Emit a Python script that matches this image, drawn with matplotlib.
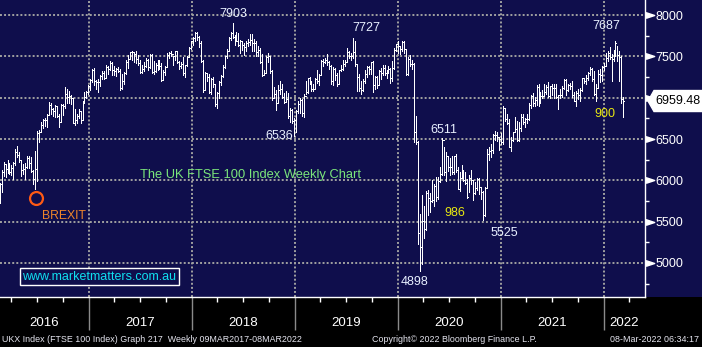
import numpy as np
import pandas as pd
import matplotlib
matplotlib.use("Agg")
import matplotlib.pyplot as plt
import matplotlib.dates as mdates
from matplotlib.transforms import blended_transform_factory
from matplotlib.patches import Rectangle, Polygon

# ---------------- data (weekly FTSE 100) ----------------
first_week = "2016-02-19"

close_2016 = [5950, 6097, 6199, 6139, 6189, 6106, 6146, 6204, 6343, 6310, 6242, 6125, 6138, 6156, 6270, 6209,
              6116, 6021, 6138, 6577, 6590, 6669, 6730, 6724, 6793, 6916, 6859, 6838, 6894, 6777, 6710, 6910,
              6899, 7044, 7014, 7020, 6996, 6693, 6730, 6775, 6840, 6730, 6954, 7011, 7068, 7142]
high_2016 = [5970, 6120, 6220, 6200, 6240, 6210, 6190, 6220, 6380, 6420, 6340, 6250, 6200, 6210, 6290, 6290,
             6280, 6120, 6360, 6600, 6610, 6700, 6740, 6760, 6800, 6950, 6940, 6880, 6910, 6900, 6800, 6920,
             6920, 7130, 7100, 7080, 7030, 7000, 6860, 6800, 6860, 6840, 6960, 7070, 7080, 7150]
low_2016 = [5720, 5860, 6050, 6040, 6090, 6080, 6060, 6020, 6190, 6280, 6220, 6050, 6080, 6020, 6150, 6150,
            6100, 5950, 5900, 5990, 6460, 6590, 6630, 6660, 6640, 6790, 6800, 6780, 6770, 6770, 6640, 6710,
            6790, 6880, 6940, 6940, 6920, 6690, 6670, 6690, 6760, 6690, 6740, 6930, 7000, 7050]

close_2017 = [7210, 7338, 7198, 7184, 7188, 7258, 7300, 7243, 7374, 7343, 7425, 7337, 7323, 7349, 7327, 7114,
              7204, 7297, 7435, 7470, 7547, 7548, 7527, 7464, 7424, 7313, 7350, 7378, 7453, 7368, 7511, 7310,
              7324, 7401, 7439, 7378, 7215, 7311, 7373, 7522, 7535, 7523, 7505, 7560, 7433, 7380, 7409, 7300,
              7394, 7490, 7603, 7688]
high_2017 = [7220, 7350, 7360, 7210, 7220, 7280, 7320, 7320, 7390, 7380, 7440, 7430, 7380, 7360, 7370, 7350,
             7290, 7310, 7450, 7520, 7550, 7560, 7540, 7560, 7520, 7450, 7390, 7430, 7480, 7470, 7530, 7530,
             7440, 7420, 7450, 7450, 7420, 7330, 7380, 7540, 7550, 7560, 7510, 7560, 7560, 7440, 7430, 7490,
             7400, 7510, 7610, 7690]
low_2017 = [7090, 7190, 7150, 7110, 7070, 7140, 7230, 7230, 7240, 7290, 7330, 7280, 7270, 7260, 7310, 7090,
            7110, 7170, 7290, 7360, 7470, 7460, 7430, 7420, 7400, 7300, 7300, 7320, 7370, 7340, 7360, 7300,
            7290, 7310, 7330, 7350, 7200, 7210, 7280, 7370, 7480, 7500, 7400, 7450, 7420, 7350, 7360, 7280,
            7250, 7380, 7490, 7590]

close_2018 = [7724, 7778, 7730, 7665, 7443, 7092, 7294, 7244, 7070, 7224, 7164, 6922, 7057, 7184, 7265, 7368,
              7502, 7567, 7724, 7778, 7730, 7701, 7681, 7633, 7682, 7637, 7617, 7661, 7679, 7701, 7659, 7667,
              7558, 7577, 7432, 7277, 7304, 7490, 7510, 7318, 6996, 7050, 6940, 7094, 7105, 7014, 6953, 6980,
              6778, 6845, 6721, 6733]
high_2018 = [7730, 7790, 7790, 7750, 7680, 7460, 7310, 7290, 7290, 7240, 7250, 7170, 7070, 7200, 7270, 7400,
             7510, 7590, 7730, 7800, 7903, 7760, 7790, 7780, 7700, 7690, 7660, 7690, 7710, 7770, 7770, 7710,
             7680, 7620, 7600, 7530, 7330, 7510, 7540, 7510, 7330, 7130, 7090, 7150, 7200, 7160, 7060, 7080,
             7060, 6880, 6860, 6760]
low_2018 = [7640, 7690, 7700, 7610, 7430, 7070, 7100, 7200, 7060, 7050, 7130, 6900, 6870, 7000, 7150, 7250,
            7360, 7480, 7560, 7700, 7720, 7640, 7680, 7620, 7540, 7580, 7520, 7570, 7630, 7640, 7560, 7570,
            7510, 7510, 7420, 7260, 7270, 7300, 7430, 7300, 6970, 6990, 6850, 6950, 7040, 6990, 6930, 6950,
            6760, 6710, 6690, 6536]

close_2019 = [6837, 6918, 6968, 6809, 7020, 7071, 7237, 7178, 7107, 7104, 7228, 7207, 7279, 7447, 7437, 7460,
              7428, 7380, 7203, 7348, 7277, 7161, 7331, 7346, 7407, 7426, 7553, 7506, 7508, 7549, 7407, 7253,
              7117, 7095, 7207, 7282, 7367, 7345, 7426, 7155, 7247, 7150, 7324, 7302, 7359, 7302, 7326, 7346,
              7240, 7353, 7582, 7645]
high_2019 = [6850, 6960, 7000, 6980, 7050, 7200, 7240, 7250, 7200, 7170, 7240, 7340, 7290, 7450, 7470, 7480,
             7530, 7440, 7400, 7370, 7360, 7300, 7340, 7400, 7450, 7450, 7600, 7570, 7540, 7727, 7690, 7410,
             7290, 7200, 7230, 7340, 7380, 7380, 7430, 7440, 7260, 7260, 7340, 7360, 7400, 7390, 7340, 7380,
             7360, 7440, 7600, 7650]
low_2019 = [6590, 6810, 6820, 6780, 6770, 7040, 7060, 7160, 7080, 7080, 7100, 7180, 7150, 7270, 7380, 7420,
            7400, 7350, 7170, 7150, 7210, 7140, 7160, 7320, 7330, 7380, 7430, 7480, 7460, 7480, 7380, 7080,
            7080, 7050, 7080, 7180, 7250, 7290, 7290, 7070, 7110, 7120, 7150, 7230, 7280, 7270, 7240, 7300,
            7180, 7200, 7350, 7570]

close_2020 = [7622, 7588, 7675, 7586, 7286, 7467, 7409, 7404, 6581, 6463, 5366, 5191, 5510, 5416, 5843, 5787,
              5752, 5763, 5936, 5800, 5993, 6077, 6484, 6105, 6293, 6159, 6157, 6095, 6290, 6124, 5898, 6032,
              6090, 6002, 5964, 5800, 6032, 6007, 5843, 5902, 6017, 5920, 5860, 5577, 5910, 6316, 6351, 6367,
              6550, 6547, 6529, 6502, 6461]
high_2020 = [7690, 7620, 7690, 7690, 7590, 7490, 7520, 7460, 7420, 6780, 6470, 5590, 5820, 5690, 5870, 5880,
             5850, 6000, 5950, 6040, 6040, 6160, 6511, 6400, 6340, 6290, 6270, 6290, 6300, 6320, 6160, 6100,
             6190, 6120, 6100, 6020, 6060, 6120, 6000, 5980, 6030, 6030, 5920, 5870, 5920, 6380, 6400, 6440,
             6560, 6600, 6590, 6530, 6570]
low_2020 = [7540, 7530, 7560, 7540, 7270, 7280, 7380, 7350, 6460, 6440, 5230, 4898, 4990, 5300, 5400, 5580,
            5620, 5740, 5690, 5750, 5780, 5980, 6060, 6060, 5990, 6110, 6060, 6080, 6080, 6100, 5890, 5870,
            6040, 5990, 5950, 5790, 5860, 5960, 5760, 5830, 5880, 5830, 5780, 5525, 5570, 5920, 6240, 6280,
            6330, 6490, 6480, 6370, 6440]

close_2021 = [6873, 6736, 6695, 6407, 6489, 6589, 6624, 6483, 6631, 6761, 6709, 6741, 6737, 6916, 7020, 6938,
              6970, 7130, 7044, 7018, 7023, 7069, 7134, 7017, 7136, 7123, 7122, 7008, 7028, 7032, 7123, 7218,
              7088, 7148, 7138, 7029, 6964, 7051, 7028, 7096, 7234, 7205, 7238, 7304, 7348, 7224, 7044, 7122,
              7292, 7270, 7373, 7385]
high_2021 = [6900, 6870, 6800, 6740, 6530, 6590, 6770, 6720, 6700, 6800, 6800, 6760, 6800, 6930, 7030, 7060,
             7010, 7150, 7160, 7070, 7090, 7160, 7150, 7190, 7140, 7170, 7170, 7170, 7030, 7110, 7140, 7220,
             7230, 7170, 7180, 7200, 7070, 7080, 7110, 7120, 7240, 7240, 7280, 7310, 7370, 7360, 7320, 7170,
             7340, 7350, 7380, 7420]
low_2021 = [6440, 6720, 6680, 6400, 6360, 6480, 6600, 6480, 6470, 6600, 6680, 6640, 6690, 6730, 6870, 6900,
            6900, 6910, 6900, 6930, 6990, 7020, 7040, 7010, 6990, 7030, 6990, 6990, 6860, 6990, 7010, 7110,
            7030, 7080, 7100, 7010, 6960, 6900, 6980, 6960, 7080, 7180, 7170, 7210, 7270, 7200, 7030, 6960,
            7120, 7190, 7200, 7340]

close_2022 = [7485, 7543, 7494, 7466, 7516, 7661, 7513, 7489, 6987, 6959.48]
high_2022 = [7540, 7570, 7610, 7530, 7580, 7687, 7620, 7570, 7500, 7010]
low_2022 = [7380, 7440, 7470, 7200, 7440, 7510, 7440, 7200, 6940, 6770]

price_ticks = [5000, 5500, 6000, 6500, 7000, 7500, 8000]
year_labels = ["2016", "2017", "2018", "2019", "2020", "2021", "2022"]

peak_labels = [("7903", 233, 14), ("7727", 366, 28), ("6536", 279, 136), ("6511", 444, 130),
               ("4898", 415, 282), ("5525", 504, 233), ("7687", 606, 26)]
count_labels = [("986", 455, 213), ("900", 605, 114)]

closes = close_2016 + close_2017 + close_2018 + close_2019 + close_2020 + close_2021 + close_2022
highs = high_2016 + high_2017 + high_2018 + high_2019 + high_2020 + high_2021 + high_2022
lows = low_2016 + low_2017 + low_2018 + low_2019 + low_2020 + low_2021 + low_2022
opens = [closes[0]] + closes[:-1]
dates = pd.date_range(first_week, periods=len(closes), freq="W-FRI")
dn = mdates.date2num(dates.to_pydatetime())

# ---------------- figure ----------------
W, H = 702, 347
NAVY = "#0f0e4c"
FONT = "Liberation Sans"
fig = plt.figure(figsize=(W / 100, H / 100), dpi=100)
fig.patch.set_facecolor(NAVY)
fig.add_artist(Rectangle((0, 0), 1, 50 / H, transform=fig.transFigure,
                         facecolor="black", edgecolor="none", zorder=-5))

AX_W, AX_H = 645, 297
ax = fig.add_axes([0, 50 / H, AX_W / W, AX_H / H])
ax.set_facecolor(NAVY)

x0 = mdates.date2num(pd.Timestamp("2017-01-01").to_pydatetime())
dpp = 365.25 / 103.0
ax.set_xlim(x0 - 89 * dpp, x0 + (AX_W - 89) * dpp)
ax.set_ylim(4588.7, 8181.5)

# bars
kw = dict(color="white", lw=0.7, antialiased=False, zorder=3)
ax.vlines(dn, lows, highs, **kw)
ax.hlines(closes, dn, dn + 3.0, **kw)
ax.hlines(opens, dn - 3.0, dn, **kw)

# grid
ax.set_yticks(price_ticks)
ax.set_yticks(np.arange(4750, 8001, 500), minor=True)
ax.xaxis.set_major_locator(mdates.YearLocator())
ax.xaxis.set_minor_locator(mdates.MonthLocator(bymonth=[4, 7, 10]))
ax.grid(True, which="major", color="#a0a0a0", linestyle=(0, (1, 1.1)), linewidth=1.4, zorder=1)
ax.set_axisbelow(True)

# x ticks
ax.tick_params(axis="x", which="major", direction="out", length=24, width=1, color="#8a8a8a",
               labelbottom=False)
ax.tick_params(axis="x", which="minor", direction="out", length=3.5, width=1, color="white",
               labelbottom=False)

# y ticks on right (7000 label sits under the last-price tag, as in the reference)
last = closes[-1]
ax.yaxis.tick_right()
ax.tick_params(axis="y", which="major", length=0, pad=7.5, labelsize=9, labelcolor="white")
ax.tick_params(axis="y", which="minor", direction="out", length=3, width=1, color="white")
ax.set_yticklabels(["" if abs(v - last) < 150 else str(v) for v in price_ticks], fontfamily=FONT)
trans_y = blended_transform_factory(ax.transAxes, ax.transData)
tri = [(-0.5, -0.33), (0.5, 0), (-0.5, 0.33), (-0.5, -0.33)]
ax.plot([1 + 4.5 / AX_W] * len(price_ticks), price_ticks, ls="none", marker=tri, ms=6,
        color="white", transform=trans_y, clip_on=False, zorder=5)

for s in ["top", "left"]:
    ax.spines[s].set_visible(False)
for s in ["right", "bottom"]:
    ax.spines[s].set_color("white")
    ax.spines[s].set_linewidth(1)

# year labels in footer (centre of visible part of each year)
xl = ax.get_xlim()
trans_x = blended_transform_factory(ax.transData, ax.transAxes)
for lab in year_labels:
    a = mdates.date2num(pd.Timestamp(f"{lab}-01-01").to_pydatetime())
    b = mdates.date2num(pd.Timestamp(f"{int(lab) + 1}-01-01").to_pydatetime())
    mid = (max(a, xl[0]) + min(b, xl[1])) / 2
    ax.text(mid, (AX_H - 323) / AX_H, lab, transform=trans_x, ha="center", va="center",
            color="white", fontsize=9.5, fontfamily=FONT, clip_on=False)


def axfrac(px, py):
    return px / AX_W, (AX_H - py) / AX_H


for lab, px, py in peak_labels:
    ax.text(*axfrac(px, py), lab, transform=ax.transAxes, ha="center", va="center",
            color="#e8f0ff", fontsize=9, fontfamily=FONT, zorder=6)
for lab, px, py in count_labels:
    ax.text(*axfrac(px, py), lab, transform=ax.transAxes, ha="center", va="center",
            color="#e8e810", fontsize=9, fontfamily=FONT, zorder=6)

ax.text(*axfrac(250, 175), "The UK FTSE 100 Index Weekly Chart", transform=ax.transAxes,
        ha="center", va="center", color="#7be67b", fontsize=9.3, fontfamily=FONT, zorder=6)
ax.text(*axfrac(63.5, 216), "BREXIT", transform=ax.transAxes, ha="center", va="center",
        color="#f0852a", fontsize=8.8, fontfamily=FONT, zorder=6)
ax.plot(*axfrac(36, 198), marker="o", ms=9.3, mfc="none", mec="#ff5a14", mew=1.6,
        transform=ax.transAxes, zorder=6)
ax.text(*axfrac(99, 276.5), "www.marketmatters.com.au", transform=ax.transAxes, ha="center",
        va="center", color="#10e0f0", fontsize=9, fontfamily=FONT, zorder=6,
        bbox=dict(boxstyle="square,pad=0.2", fc=NAVY, ec="white", lw=1))

# last price tag
fig.canvas.draw()
yd = ax.transData.transform((xl[0], last))[1]
h2 = 10.5
verts = [(648, yd), (654, yd + h2), (W + 2, yd + h2), (W + 2, yd - h2), (654, yd - h2)]
verts = [(vx / W, vy / H) for vx, vy in verts]
fig.add_artist(Polygon(verts, closed=True, transform=fig.transFigure, facecolor="white",
                       edgecolor="white", lw=1, zorder=10))
fig.text(655 / W, yd / H, f"{last:.2f}", ha="left", va="center", color="black",
         fontsize=9, fontfamily=FONT, zorder=11)

# footer text
fy = 1 - 340 / H
fig.text(2 / W, fy, "UKX Index (FTSE 100 Index) Graph 217  Weekly 09MAR2017-08MAR2022",
         ha="left", va="center", color="#e6e6f0", fontsize=6.4, fontfamily=FONT)
fig.text(372 / W, fy, "Copyright\u00a9 2022 Bloomberg Finance L.P.", ha="left", va="center",
         color="#e6e6f0", fontsize=6.4, fontfamily=FONT)
fig.text(699 / W, fy, "08-Mar-2022 06:34:17", ha="right", va="center", color="#e6e6f0",
         fontsize=6.4, fontfamily=FONT)

fig.savefig("out.png", dpi=100, facecolor=fig.get_facecolor())
